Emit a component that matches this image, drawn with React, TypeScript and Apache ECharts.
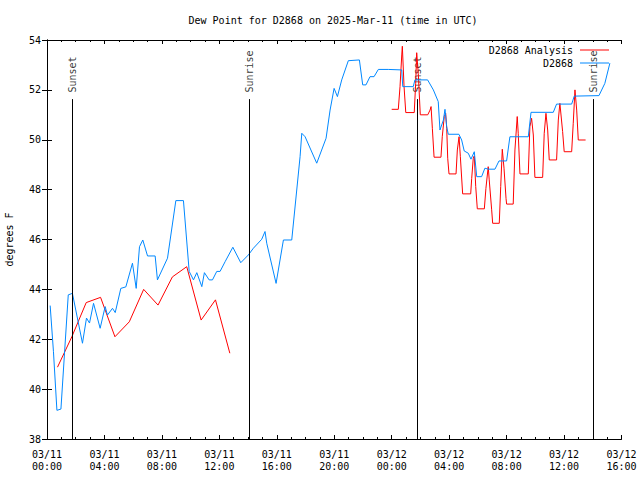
import React, { useEffect, useRef } from "react";
import * as echarts from "echarts";

const TITLE = "Dew Point for D2868 on 2025-Mar-11 (time in UTC)";
const Y_NAME = "degrees F";
const OBS_NAME = "D2868";
const ANA_NAME = "D2868 Analysis";

// hours since 2025-03-11 00:00 UTC
const obsHours = [
  0.22, 0.45, 0.69, 0.97, 1.48, 1.77, 2.47, 2.75, 2.96, 3.24, 3.7, 4.05, 4.21, 4.56, 4.75,
  5.14, 5.49, 5.95, 6.21, 6.44, 6.67, 7.0, 7.53, 7.69, 8.39, 8.97, 9.5, 9.9, 10.2, 10.43,
  10.78, 10.96, 11.29, 11.52, 11.82, 12.05, 12.4, 12.94, 13.49, 14.02, 14.37, 14.95, 15.18,
  15.3, 15.95, 16.46, 17.04, 17.62, 17.74, 17.97, 18.78, 19.43, 19.71, 19.99, 20.22, 20.52,
  20.98, 21.75, 21.98, 22.21, 22.49, 22.77, 23.07, 23.76, 24.7, 24.77, 25.5, 25.62, 26.5,
  26.9, 27.24, 27.36, 27.6, 27.71, 27.83, 27.94, 28.68, 28.87, 29.05, 29.33, 29.52, 29.75,
  29.92, 30.26, 30.49, 30.72, 31.19, 31.47, 32.0, 32.23, 33.51, 33.7, 35.25, 35.48, 36.53,
  36.71, 38.43, 38.84, 39.19,
];
const obsValues = [
  43.35, 41.5, 39.15, 39.2, 43.78, 43.84, 41.84, 42.85, 42.65, 43.44, 42.44, 43.31, 42.97,
  43.24, 43.07, 44.04, 44.1, 45.05, 44.04, 45.71, 45.98, 45.34, 45.34, 44.38, 45.25, 47.56,
  47.56, 44.72, 44.38, 44.67, 44.11, 44.67, 44.38, 44.38, 44.72, 44.72, 45.11, 45.69, 45.07,
  45.38, 45.65, 46.01, 46.32, 45.85, 44.24, 45.98, 45.98, 49.32, 50.26, 50.12, 49.06, 50.06,
  51.19, 52.06, 51.73, 52.4, 53.17, 53.2, 52.2, 52.2, 52.53, 52.53, 52.82, 52.82, 52.8,
  52.13, 52.13, 52.4, 52.4, 52.0, 51.53, 50.39, 50.79, 51.22, 50.52, 50.22, 50.22, 49.99,
  49.55, 49.46, 49.22, 49.52, 48.52, 48.52, 48.86, 48.82, 48.82, 49.15, 49.15, 50.12, 50.12,
  51.1, 51.1, 51.43, 51.43, 51.75, 51.77, 52.26, 53.07,
];

const anaEveningHours = [0.73, 1.73, 2.73, 3.73, 4.73, 5.73, 6.73, 7.73, 8.73, 9.73, 10.73, 11.73, 12.73];
const anaEveningValues = [40.88, 42.1, 43.47, 43.68, 42.1, 42.7, 44.0, 43.37, 44.5, 44.91, 42.77, 43.58, 41.44];

const anaMorningHours = [
  24.0, 24.46, 24.58, 24.7, 24.74, 24.86, 24.98, 25.57, 25.67, 25.74, 25.85, 25.99, 26.51,
  26.67, 26.74, 26.83, 26.95, 27.43, 27.52, 27.66, 27.76, 27.83, 27.9, 27.99, 28.48, 28.57,
  28.69, 28.78, 28.94, 29.5, 29.57, 29.68, 29.75, 29.85, 29.96, 30.45, 30.56, 30.72, 30.79,
  30.96, 31.03, 31.49, 31.59, 31.7, 31.82, 31.96, 32.0, 32.46, 32.58, 32.74, 32.81, 32.93,
  33.51, 33.62, 33.74, 33.86, 33.97, 34.51, 34.62, 34.74, 34.86, 34.97, 35.48, 35.6, 35.71,
  35.9, 36.01, 36.53, 36.64, 36.76, 36.88, 36.99, 37.5,
];
const anaMorningValues = [
  51.22, 51.22, 52.13, 53.4, 53.75, 52.13, 51.09, 51.09, 52.26, 53.49, 52.66, 51.0, 51.0,
  51.19, 51.33, 50.46, 49.3, 49.3, 50.12, 50.93, 51.06, 50.46, 49.26, 48.63, 48.63, 49.59,
  50.12, 49.32, 47.83, 47.83, 48.45, 49.26, 49.35, 48.12, 47.23, 47.23, 48.05, 48.92, 48.39,
  47.19, 46.65, 46.65, 48.12, 49.62, 48.86, 47.65, 47.42, 47.42, 49.59, 50.93, 50.26, 48.63,
  48.63, 50.52, 50.86, 50.19, 48.49, 48.49, 50.26, 51.06, 50.39, 49.19, 49.19, 50.79, 51.46,
  50.33, 49.52, 49.52, 50.66, 52.0, 51.19, 49.99, 49.99,
];

const sunEventHours = [1.77, 14.09, 25.78, 38.03];
const sunEventLabels = ["Sunset", "Sunrise", "Sunset", "Sunrise"];
const sunLineTop = 51.63;

const X_MIN = 0;
const X_MAX = 40;
const X_STEP = 4;
const Y_MIN = 38;
const Y_MAX = 54;
const Y_STEP = 2;

const FONT = "DejaVu Sans Mono";
const RED = "#ff0000";
const BLUE = "#0088ff";

function xLabel(v: number): string {
  const day = v < 24 ? "03/11" : "03/12";
  const h = Math.round(v % 24);
  return `${day}\n${String(h).padStart(2, "0")}:00`;
}

export default function App() {
  const ref = useRef<HTMLDivElement>(null);
  useEffect(() => {
    if (!ref.current) return;
    const chart = echarts.init(ref.current, null, { renderer: "svg" });
    const obsData = obsHours.map((h, i) => [h, obsValues[i]]);
    const anaData: any[] = [
      ...anaEveningHours.map((h, i) => [h, anaEveningValues[i]]),
      [18.5, "-"],
      ...anaMorningHours.map((h, i) => [h, anaMorningValues[i]]),
    ];
    const axisLine = { show: true, lineStyle: { color: "#000", width: 1 } };
    const textBase = { fontFamily: FONT, fontSize: 10, color: "#000" };
    const legendBase = {
      right: 26,
      align: "right",
      icon: "rect",
      itemWidth: 29,
      itemHeight: 1,
      textStyle: { ...textBase, padding: [0, 2, 0, 0] },
      selectedMode: false,
    };
    const option: any = {
      animation: false,
      backgroundColor: "#fff",
      textStyle: { fontFamily: FONT },
      graphic: [
        {
          type: "text",
          x: 333,
          y: 20,
          style: { text: TITLE, ...textBase, fill: "#000", textAlign: "center", textVerticalAlign: "middle" },
        },
      ],
      legend: [
        { ...legendBase, data: [ANA_NAME], top: 40 },
        { ...legendBase, data: [OBS_NAME], top: 53 },
      ],
      grid: { left: 47, right: 18.5, top: 40, bottom: 41, containLabel: false, outerBoundsMode: "none" },
      xAxis: [
        {
          type: "value",
          min: X_MIN,
          max: X_MAX,
          interval: X_STEP,
          position: "bottom",
          axisLine,
          axisTick: { show: true, inside: true, length: 4, lineStyle: { color: "#000" } },
          minorTick: { show: true, splitNumber: 4, length: 2, lineStyle: { color: "#000" } },
          splitLine: { show: false },
          axisLabel: {
            ...textBase,
            margin: 9,
            lineHeight: 12,
            showMinLabel: true,
            showMaxLabel: true,
            formatter: xLabel,
          },
        },
        {
          type: "value",
          min: X_MIN,
          max: X_MAX,
          interval: X_STEP,
          position: "top",
          axisLine,
          axisTick: { show: true, inside: true, length: 4, lineStyle: { color: "#000" } },
          minorTick: { show: true, splitNumber: 4, length: 2, lineStyle: { color: "#000" } },
          splitLine: { show: false },
          axisLabel: { show: false },
        },
      ],
      yAxis: [
        {
          type: "value",
          min: Y_MIN,
          max: Y_MAX,
          interval: Y_STEP,
          position: "left",
          name: Y_NAME,
          nameLocation: "middle",
          nameRotate: 90,
          nameGap: 33,
          nameTextStyle: { ...textBase },
          axisLine,
          axisTick: { show: true, inside: true, length: 5, lineStyle: { color: "#000" } },
          splitLine: { show: false },
          axisLabel: { ...textBase, margin: 6 },
        },
        {
          type: "value",
          min: Y_MIN,
          max: Y_MAX,
          interval: Y_STEP,
          position: "right",
          axisLine,
          axisTick: { show: true, inside: true, length: 5, lineStyle: { color: "#000" } },
          splitLine: { show: false },
          axisLabel: { show: false },
        },
      ],
      series: [
        {
          name: ANA_NAME,
          type: "line",
          data: anaData,
          showSymbol: false,
          symbol: "none",
          connectNulls: false,
          color: RED,
          lineStyle: { color: RED, width: 1 },
          z: 3,
          markLine: {
            silent: true,
            symbol: ["none", "none"],
            label: { show: false },
            lineStyle: { color: "#000", width: 1, type: "solid" },
            data: sunEventHours.map((h) => [{ coord: [h, sunLineTop] }, { coord: [h, Y_MIN] }]),
          },
        },
        {
          name: OBS_NAME,
          type: "line",
          data: obsData,
          showSymbol: false,
          symbol: "none",
          color: BLUE,
          lineStyle: { color: BLUE, width: 1 },
          z: 4,
        },
        {
          name: "sun events",
          type: "scatter",
          data: sunEventHours.map((h, i) => ({ value: [h, sunLineTop], name: sunEventLabels[i] })),
          symbolSize: 1,
          itemStyle: { color: "rgba(0,0,0,0)" },
          silent: true,
          label: {
            show: true,
            position: "top",
            distance: 6,
            rotate: 90,
            align: "left",
            verticalAlign: "middle",
            formatter: (p: any) => p.name,
            ...textBase,
          },
        },
      ],
    };
    chart.setOption(option);
    return () => chart.dispose();
  }, []);
  return (
    <div
      ref={ref}
      style={{ position: "fixed", left: 0, top: 0, width: 640, height: 480, background: "#fff" }}
    />
  );
}
